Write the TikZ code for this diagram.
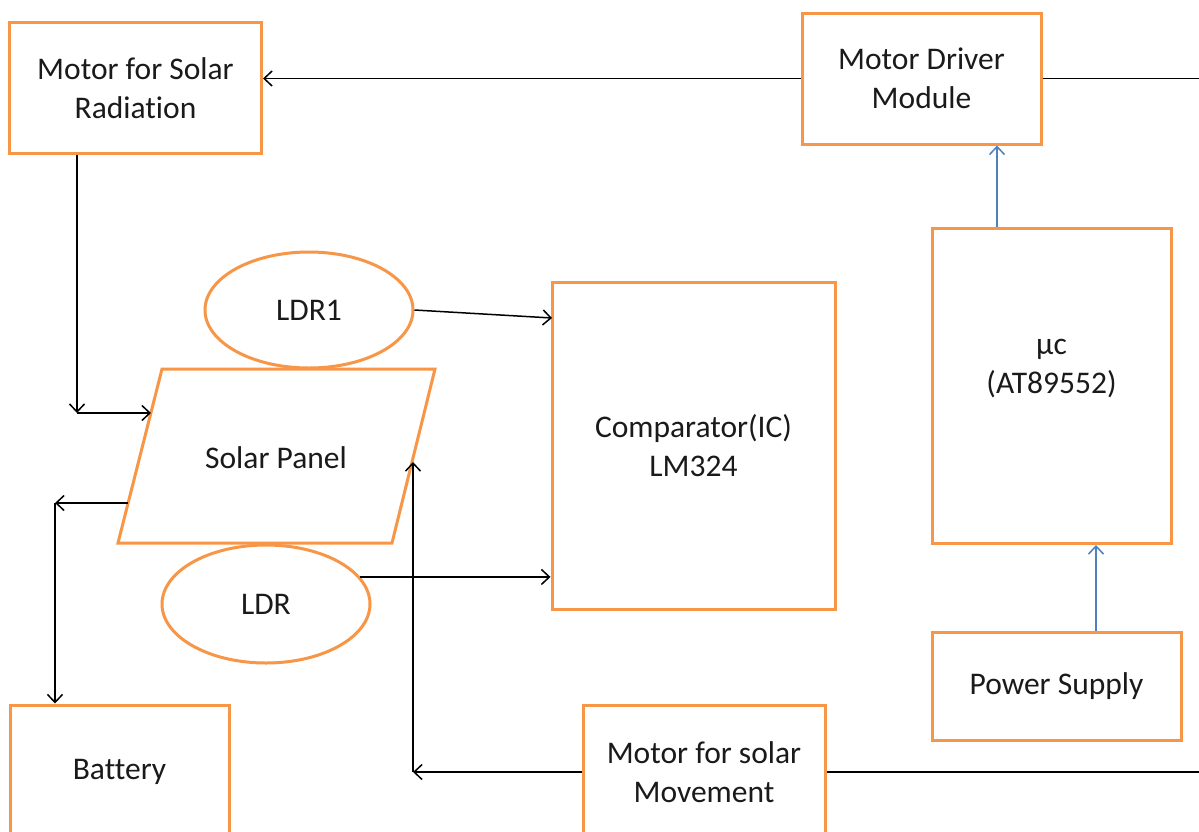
\documentclass[tikz,border=0pt]{standalone}
\usepackage{fontspec}
\setmainfont{Carlito}[Ligatures=NoCommon]
\usetikzlibrary{arrows.meta,shapes.geometric}
\definecolor{orng}{HTML}{F79646}
\definecolor{blu}{HTML}{4F81BD}
\definecolor{txt}{HTML}{1A1A1A}
\begin{document}
\begin{tikzpicture}[x=1pt,y=-1pt,
  every node/.style={font=\fontsize{31.5}{39}\selectfont, text=txt, align=center, inner sep=0pt},
  box/.style={draw=orng, line width=3pt, rectangle},
  oval/.style={draw=orng, line width=3pt, ellipse},
  arr/.style={draw=black, line width=1.5pt, -{Straight Barb[length=8pt,width=15pt,line width=1.5pt]}},
  ln/.style={draw=black, line width=1.5pt},
  barr/.style={draw=blu, line width=1.5pt, -{Straight Barb[length=8pt,width=15pt,line width=1.5pt]}}]
\useasboundingbox (0,0) rectangle (1199,831);
\fill[white] (0,0) rectangle (1199,831);

% boxes
\node[box, minimum width=252pt, minimum height=131pt] (msr) at (135.5,88) {Motor for Solar\\Radiation};
\node[box, minimum width=239pt, minimum height=131pt] (mdm) at (921.5,78.5) {Motor Driver\\Module};
\node[box, minimum width=239pt, minimum height=315pt] (mc) at (1051.5,386) {};
\node (mctext) at (1051.5,369) {µc\\(AT89552)};
\node[box, minimum width=249pt, minimum height=108pt] (ps) at (1056.5,686) {Power Supply};
\node[box, minimum width=283pt, minimum height=327pt] (cmp) at (693.5,446) {Comparator(IC)\\LM324};
\node[box, minimum width=219pt, minimum height=134pt] (bat) at (119.5,772) {Battery};
\node[box, minimum width=242pt, minimum height=134pt] (mov) at (704,772) {Motor for solar\\Movement};

% ellipses
\node[oval, minimum width=208pt, minimum height=116pt] (ldr1) at (309,310) {LDR1};
\node[oval, minimum width=208pt, minimum height=118pt] (ldr) at (266,604) {LDR};

% solar panel parallelogram
\coordinate (ptl) at (162,369);
\coordinate (ptr) at (435,369);
\coordinate (pbr) at (392,543);
\coordinate (pbl) at (118,543);
\filldraw[draw=orng, fill=white, line width=3pt, line join=miter] (ptl) -- (ptr) -- (pbr) -- (pbl) -- cycle;
\node (panel) at (276,458) {Solar Panel};

% connection points
\coordinate (pL1) at (151,413);
\coordinate (c1) at (77,413);
\coordinate (pL2) at (128,503);
\coordinate (c2) at (55,503);
\coordinate (pR) at (412,462);
\coordinate (c3) at (413,772);
\coordinate (r1) at (1199,78.5);
\coordinate (r2) at (1199,772);
\coordinate (cin1) at (552,318);
\coordinate (ax) at (997,0);
\coordinate (bx) at (1096,0);

% connectors
\draw[arr] (mdm.west) -- (mdm.west -| msr.east);
\draw[ln] (mdm.east) -- (mdm.east -| r1);
\draw[arr] (msr.south -| c1) -- (c1);
\draw[arr] (c1) -- (pL1);
\draw[arr] (pL2) -- (c2);
\draw[arr] (c2) -- (c2 |- bat.north);
\draw[arr] (mov.west) -- (c3);
\draw[arr] (c3) -- (c3 |- pR);
\draw[ln] (mov.east) -- (mov.east -| r2);
\draw[arr] (ldr1.east) -- (cin1);
\draw[arr] (ldr.16.3) -- (ldr.16.3 -| cmp.west);
\draw[barr] (mc.north -| ax) -- (mdm.south -| ax);
\draw[barr] (ps.north -| bx) -- (mc.south -| bx);
\end{tikzpicture}
\end{document}
